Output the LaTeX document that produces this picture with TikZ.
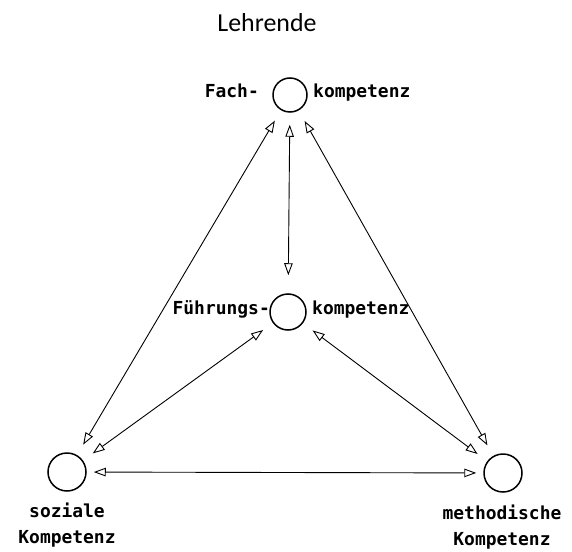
\documentclass[tikz,border=0pt]{standalone}
\usepackage{fontspec}
\setmainfont{Carlito}
\newfontfamily\stencilfont{DejaVu Sans Mono}
\usetikzlibrary{arrows.meta}
\tikzset{
  komp/.style={circle, draw, line width=1.5bp, minimum size=36bp, inner sep=0pt},
  lbl/.style={font=\stencilfont\bfseries\fontsize{18}{26}\selectfont, inner sep=0pt},
  link/.style={line width=0.9bp,
    {Triangle[open,length=12bp,width=8.5bp]}-{Triangle[open,length=12bp,width=8.5bp]},
    shorten <=12bp, shorten >=12bp},
}
\begin{document}
\begin{tikzpicture}[x=1bp,y=-1bp]
    \useasboundingbox (0,0) rectangle (572,552);
    \node[font=\fontsize{26}{30}\selectfont] (lehr) at (267,23) {Lehrende};

    % Kompetenzen
    \node[komp, minimum size=34bp] (fach) at (290,95) {};
    \node[komp] (fuehr) at (288,312) {};
    \node[komp, minimum size=38bp] (sozial) at (67,472) {};
    \node[komp, minimum size=38bp] (method) at (503,473) {};

    \node[lbl, anchor=mid east] (fachL) at (259,95) {Fach-};
    \node[lbl, anchor=mid west] (fachR) at (313,95) {kompetenz};
    \node[lbl, anchor=mid east] (fuehrL) at (270,312) {Führungs-};
    \node[lbl, anchor=mid west] (fuehrR) at (312,312) {kompetenz};
    \node[lbl, anchor=north, align=center] (sozialL) at (67,503) {soziale\\Kompetenz};
    \node[lbl, anchor=north, align=center] (methodL) at (502,505) {methodische\\Kompetenz};

    % Pfeile
    \draw[link] (fach) -- (sozial);
    \draw[link] (fach) -- (method);
    \draw[link, shorten >=18bp] (fach) -- (fuehr);
    \draw[link] (fuehr) -- (sozial);
    \draw[link] (fuehr) -- (method);
    \draw[link, shorten <=7bp, shorten >=7bp] (sozial) -- (method);
\end{tikzpicture}
\end{document}
